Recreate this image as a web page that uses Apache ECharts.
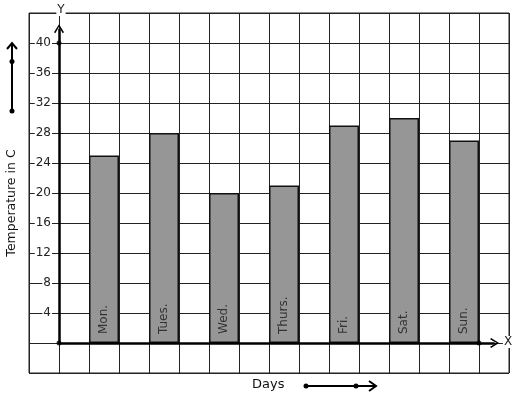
<!DOCTYPE html>
<html><head><meta charset="utf-8">
<script src="https://cdn.jsdelivr.net/npm/echarts@6/dist/echarts.min.js"></script>
<style>html,body{margin:0;padding:0;background:#fff}#c{width:517px;height:399px}</style>
</head><body><div id="c"></div>
<script>
const days = ['Mon.', 'Tues.', 'Wed.', 'Thurs.', 'Fri.', 'Sat.', 'Sun.'];
const temps = [25, 28, 20, 21, 29, 30, 27];
const yTickLabels = [4, 8, 12, 16, 20, 24, 28, 32, 36, 40];
const yTitle = 'Temperature in C';
const xTitle = 'Days';

// 16 grid columns; the y axis sits at column boundary 1, each day occupies every other column
const nCols = 16;
const slots = [];
const slotVals = [];
for (let i = 0; i < nCols; i++) {
  if (i >= 2 && i % 2 === 0 && (i - 2) / 2 < days.length) {
    slots.push(days[(i - 2) / 2]);
    slotVals.push(temps[(i - 2) / 2]);
  } else {
    slots.push('s' + i);
    slotVals.push(null);
  }
}

const FONT = 'DejaVu Sans';
const chevron = 'path://M5,0 L10,8.2 L8.7,9.2 L5,2.6 L1.3,9.2 L0,8.2 Z';

const chart = echarts.init(document.getElementById('c'), null, {renderer: 'canvas'});
chart.setOption({
  animation: false,
  backgroundColor: '#fff',
  grid: {left: 29, right: 8, top: 13, bottom: 26, show: true, borderColor: '#222', borderWidth: 1, backgroundColor: 'transparent'},
  xAxis: [{
    type: 'category', data: slots, boundaryGap: true,
    axisLine: {show: false}, axisTick: {show: false}, axisLabel: {show: false},
    splitLine: {show: true, interval: 0, lineStyle: {color: '#222', width: 1}}
  }, {
    type: 'value', min: -1, max: 15, show: false
  }],
  yAxis: {
    type: 'value', min: -4, max: 44, interval: 4, offset: -30,
    axisLine: {show: false}, axisTick: {show: false},
    splitLine: {show: true, lineStyle: {color: '#222', width: 1}},
    axisLabel: {
      margin: 7, fontFamily: FONT, fontSize: 12, color: '#222',
      backgroundColor: '#fff', padding: [0, 1],
      formatter: v => yTickLabels.includes(v) ? String(v) : ''
    }
  },
  series: [{
    type: 'bar', data: slotVals, barWidth: '100%', xAxisIndex: 0,
    itemStyle: {color: '#969696', borderColor: '#111', borderWidth: 1.5},
    label: {
      show: true, position: 'insideBottom', rotate: 90, distance: 9,
      align: 'left', verticalAlign: 'middle',
      formatter: '{b}', fontFamily: FONT, fontSize: 12, color: '#333'
    },
    z: 2
  }, {
    type: 'scatter', xAxisIndex: 1, data: [[0, 0], [0, 40], [14, 0]],
    symbol: 'circle', symbolSize: 5, itemStyle: {color: '#000'}, z: 6,
    markLine: {
      silent: true, animation: false,
      symbol: ['none', chevron], symbolSize: [10, 9],
      label: {show: false},
      lineStyle: {color: '#000', width: 2.5, type: 'solid'},
      data: [
        [{coord: [0, 0]}, {coord: [0, 41.9]}],
        [{coord: [0, 0]}, {coord: [14.52, 0]}]
      ]
    }
  }],
  graphic: [
    {type: 'text', x: 61, y: 10, z: 100, style: {text: 'Y', fontFamily: FONT, fontSize: 12, fill: '#222', backgroundColor: '#fff', padding: [0, 1], align: 'center', verticalAlign: 'middle'}},
    {type: 'text', x: 508, y: 342, z: 100, style: {text: 'X', fontFamily: FONT, fontSize: 12, fill: '#222', backgroundColor: '#fff', padding: [0, 1], align: 'center', verticalAlign: 'middle'}},
    {type: 'text', x: 12, y: 203, rotation: Math.PI / 2, z: 100, style: {text: yTitle, fontFamily: FONT, fontSize: 12.5, fill: '#111', align: 'center', verticalAlign: 'middle'}},
    {type: 'text', x: 252, y: 385, z: 100, style: {text: xTitle, fontFamily: FONT, fontSize: 13, fill: '#111', align: 'left', verticalAlign: 'middle'}},
    // decorative left arrow
    {type: 'line', z: 100, shape: {x1: 12, y1: 111, x2: 12, y2: 44}, style: {stroke: '#000', lineWidth: 2}},
    {type: 'polyline', z: 100, shape: {points: [[7, 49], [12, 43], [17, 49]]}, style: {stroke: '#000', lineWidth: 2, fill: null}},
    {type: 'circle', z: 100, shape: {cx: 12, cy: 61.5, r: 2.5}, style: {fill: '#000'}},
    {type: 'circle', z: 100, shape: {cx: 12, cy: 111, r: 2.5}, style: {fill: '#000'}},
    // decorative bottom arrow
    {type: 'line', z: 100, shape: {x1: 306, y1: 386, x2: 375, y2: 386}, style: {stroke: '#000', lineWidth: 2}},
    {type: 'polyline', z: 100, shape: {points: [[369, 381], [376, 386], [369, 391]]}, style: {stroke: '#000', lineWidth: 2, fill: null}},
    {type: 'circle', z: 100, shape: {cx: 306, cy: 386, r: 2.5}, style: {fill: '#000'}},
    {type: 'circle', z: 100, shape: {cx: 356, cy: 386, r: 2.5}, style: {fill: '#000'}}
  ]
});
</script></body></html>
